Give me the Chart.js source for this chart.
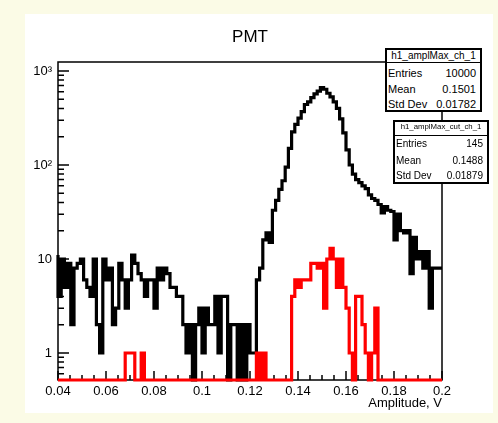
<!DOCTYPE html>
<html>
<head>
<meta charset="utf-8">
<script src="https://cdn.jsdelivr.net/npm/chart.js@4.4.1/dist/chart.umd.min.js"></script>
<style>
  html, body { margin: 0; padding: 0; }
  body { width: 498px; height: 423px; background: #fbfbe6; position: relative; overflow: hidden;
         font-family: "Liberation Sans", Arial, sans-serif; color: #000; }
  #pad { position: absolute; left: 25px; top: 14px; width: 468px; height: 399px; background: #fff; }
  #chart { position: absolute; left: 0; top: 0; }
  .stats { position: absolute; background: #fff; border: 2px solid #000; box-sizing: border-box; }
  .stats div { position: absolute; left: 0; right: 0; white-space: nowrap; }
  .stats .name { text-align: center; }
  .stats .sep { height: 0; border-top: 1.5px solid #000; }
  .stats .row { display: flex; justify-content: space-between; padding: 0 4px 0 1px; line-height: 15px; }
</style>
</head>
<body>
<div id="pad"></div>
<canvas id="chart" width="498" height="423"></canvas>

<div class="stats" style="left:385px; top:48px; width:97px; height:64px; font-size:11px;">
  <div class="name" style="top:0; line-height:12px; font-size:10px;">h1_amplMax_ch_1</div>
  <div class="sep" style="top:12px;"></div>
  <div class="row" style="top:15.5px;"><span>Entries</span><span>10000</span></div>
  <div class="row" style="top:31.5px;"><span>Mean</span><span>0.1501</span></div>
  <div class="row" style="top:47px;"><span>Std Dev</span><span>0.01782</span></div>
</div>

<div class="stats" style="left:393px; top:120px; width:96px; height:64px; font-size:10px;">
  <div class="name" style="top:0; line-height:9.5px; font-size:7.8px;">h1_amplMax_cut_ch_1</div>
  <div class="sep" style="top:12.5px;"></div>
  <div class="row" style="top:14px;"><span>Entries</span><span>145</span></div>
  <div class="row" style="top:31px;"><span>Mean</span><span>0.1488</span></div>
  <div class="row" style="top:46px;"><span>Std Dev</span><span>0.01879</span></div>
</div>

<script>
Chart.defaults.font.family = "'Liberation Sans', Arial, sans-serif";
Chart.defaults.color = "#000";

const xMin = 0.04;
const xMax = 0.2;
const yMin = 0.516;
const yMax = 1247;
const xTicks = [0.04, 0.06, 0.08, 0.1, 0.12, 0.14, 0.16, 0.18, 0.2];
const yTicks = [1, 10, 100, 1000];
const yTickLabels = ["1", "10", "10²", "10³"];

// counts per bin, 120 bins from 0.04 to 0.2
const blackCounts = [
  11, 4, 10, 5, 9, 2, 8, 9, 10, 6,
  5, 4, 10, 2, 1, 10, 6, 8, 2, 3,
  9, 6, 3, 6, 11, 9, 7, 6, 4, 6,
  6, 3, 8, 6, 8, 7, 5, 5, 4, 4,
  2, 1, 2, 0, 2, 3, 1, 3, 2, 2,
  4, 1, 4, 4, 0, 2, 2, 0, 2, 0,
  2, 1, 1, 6, 8, 16, 19, 15, 33, 42,
  55, 68, 95, 150, 225, 270, 315, 370, 440, 470,
  520, 570, 610, 665, 640, 580, 530, 470, 400, 310,
  220, 145, 100, 80, 70, 65, 60, 56, 48, 44,
  42, 38, 31, 36, 33, 32, 16, 30, 20, 19,
  20, 7, 17, 10, 12, 8, 12, 3, 8, 8
];
const redCounts = [
  0, 0, 0, 0, 0, 0, 0, 0, 0, 0,
  0, 0, 0, 0, 0, 0, 0, 0, 0, 0,
  0, 0, 1, 1, 1, 0, 0, 1, 0, 0,
  0, 0, 0, 0, 0, 0, 0, 0, 0, 0,
  0, 0, 0, 0, 0, 0, 0, 0, 0, 0,
  0, 0, 0, 0, 0, 0, 0, 0, 0, 0,
  0, 0, 0, 1, 0, 1, 0, 0, 0, 0,
  0, 0, 0, 0, 4, 6, 5, 6, 6, 6,
  9, 9, 8, 9, 3, 10, 13, 10, 5, 10,
  5, 3, 1, 0, 4, 4, 2, 1, 0, 1,
  3, 0, 0, 0, 0, 0, 0, 0, 0, 0,
  0, 0, 0, 0, 0, 0, 0, 0, 0, 0
];

// histogram outline: one point at each bin's low edge, empty bins sit on the frame bottom
function toSteps(counts) {
  const w = (xMax - xMin) / counts.length;
  const pts = counts.map((c, i) => ({ x: xMin + i * w, y: c > 0 ? c : yMin }));
  pts.push({ x: xMax, y: pts[pts.length - 1].y });
  return pts;
}

const rootFrame = {
  id: "rootFrame",
  beforeDatasetsDraw(chart) {
    const { ctx, chartArea: a, scales } = chart;
    ctx.save();
    ctx.strokeStyle = "#000";
    ctx.lineWidth = 1.5;
    ctx.strokeRect(a.left, a.top, a.right - a.left, a.bottom - a.top);
    ctx.beginPath();
    for (let d = 0.1; d < yMax; d *= 10) {
      for (let k = 1; k < 10; k++) {
        const v = k * d;
        if (v < yMin || v > yMax) continue;
        const py = scales.y.getPixelForValue(v);
        ctx.moveTo(a.left, py);
        ctx.lineTo(a.left + (k === 1 ? 11 : 6), py);
      }
    }
    for (let j = 0; j <= 32; j++) {
      const px = scales.x.getPixelForValue(xMin + j * 0.005);
      ctx.moveTo(px, a.bottom);
      ctx.lineTo(px, a.bottom - (j % 4 === 0 ? 9 : 5));
    }
    ctx.stroke();
    ctx.restore();
  },
};

new Chart(document.getElementById("chart"), {
  type: "line",
  data: {
    datasets: [
      {
        label: "h1_amplMax_cut_ch_1",
        data: toSteps(redCounts),
        borderColor: "#ff0000",
        borderWidth: 3.2,
        stepped: "after",
        pointRadius: 0,
        fill: false,
        clip: 3,
        borderJoinStyle: "miter",
      },
      {
        label: "h1_amplMax_ch_1",
        data: toSteps(blackCounts),
        borderColor: "#000000",
        borderWidth: 3.2,
        stepped: "after",
        pointRadius: 0,
        fill: false,
        clip: 3,
        borderJoinStyle: "miter",
      },
    ],
  },
  options: {
    responsive: false,
    animation: false,
    events: [],
    layout: { padding: { left: 28, right: 56, top: 0, bottom: 5 } },
    scales: {
      x: {
        type: "linear",
        min: xMin,
        max: xMax,
        afterBuildTicks: (s) => { s.ticks = xTicks.map((v) => ({ value: v })); },
        afterFit: (s) => { s.height = 38; },
        grid: { display: false, drawTicks: false },
        border: { display: false },
        ticks: { font: { size: 13 }, padding: 4, maxRotation: 0, autoSkip: false, callback: (v) => String(v) },
        title: { display: true, text: "Amplitude, V", align: "end", font: { size: 13 }, padding: { top: 0, bottom: 7 } },
      },
      y: {
        type: "logarithmic",
        min: yMin,
        max: yMax,
        afterBuildTicks: (s) => { s.ticks = yTicks.map((v) => ({ value: v })); },
        afterFit: (s) => { s.width = 30; },
        grid: { display: false, drawTicks: false },
        border: { display: false },
        ticks: { font: { size: 13 }, padding: 6, autoSkip: false, callback: (v) => yTickLabels[yTicks.indexOf(v)] },
      },
    },
    plugins: {
      legend: { display: false },
      tooltip: { enabled: false },
      title: {
        display: true,
        text: "PMT",
        fullSize: false,
        color: "#000",
        font: { size: 17, weight: "normal" },
        padding: { top: 27, bottom: 14.6 },
      },
    },
  },
  plugins: [rootFrame],
});
</script>
</body>
</html>
